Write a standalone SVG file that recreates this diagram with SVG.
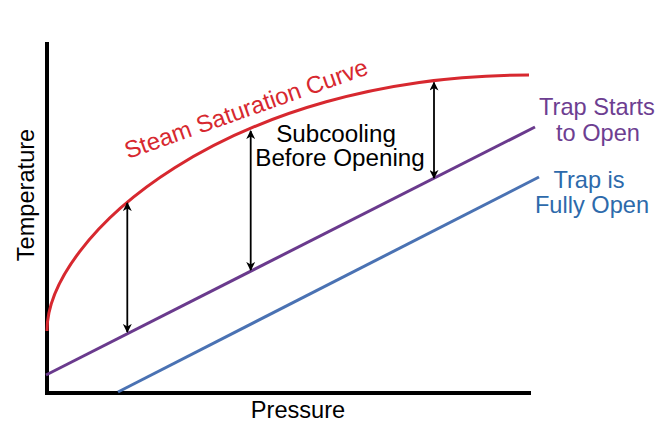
<svg xmlns="http://www.w3.org/2000/svg" width="666" height="434" viewBox="0 0 666 434">
<defs>
<style>
text{font-family:"Liberation Sans",Arial,sans-serif;font-size:23.6px}
.ax{stroke:#000;stroke-width:4;fill:none}
.dim{stroke:#000;stroke-width:1.8;fill:none;marker-start:url(#ah);marker-end:url(#ah)}
.red{fill:#d7282f;font-size:24px}
.pur{fill:#6d3e91}
.blu{fill:#2d6aab}
.sub{font-size:24.2px}
</style>
<marker id="ah" viewBox="0 0 10 10" refX="9" refY="5" markerWidth="9" markerHeight="9" markerUnits="userSpaceOnUse" orient="auto-start-reverse">
<path d="M0,0 L10,5 L0,10 L3,5 Z" fill="#000"/>
</marker>
</defs>
<rect width="666" height="434" fill="#fff"/>
<g id="axes">
<path class="ax" d="M47,42 V393 H531"/>
</g>
<g id="steam-curve">
<path d="M47,331 C47,237 227,75 529,75" fill="none" stroke="#d7282f" stroke-width="3"/>
<text class="red" transform="translate(128,159) rotate(-19.4)">Steam Saturation Curve</text>
</g>
<g id="trap-starts">
<line x1="46" y1="375" x2="535" y2="127" stroke="#6a3a8d" stroke-width="3"/>
<text class="pur" x="597" y="115" text-anchor="middle">Trap Starts</text>
<text class="pur" x="598" y="141" text-anchor="middle">to Open</text>
</g>
<g id="trap-full">
<line x1="118" y1="392" x2="539" y2="177" stroke="#4a72b3" stroke-width="3"/>
<text class="blu" x="589" y="188" text-anchor="middle">Trap is</text>
<text class="blu" x="592" y="213" text-anchor="middle">Fully Open</text>
</g>
<g id="connectors">
<line class="dim" x1="127.3" y1="203" x2="127.3" y2="332"/>
<line class="dim" x1="250.7" y1="131" x2="250.7" y2="270"/>
<line class="dim" x1="434" y1="82.5" x2="434" y2="178"/>
</g>
<g id="subcooling-label">
<text class="sub" x="336" y="142" text-anchor="middle">Subcooling</text>
<text class="sub" x="340" y="166" text-anchor="middle">Before Opening</text>
</g>
<g id="axis-labels">
<text x="298" y="418" text-anchor="middle">Pressure</text>
<text transform="translate(34,195) rotate(-90)" text-anchor="middle">Temperature</text>
</g>
</svg>
